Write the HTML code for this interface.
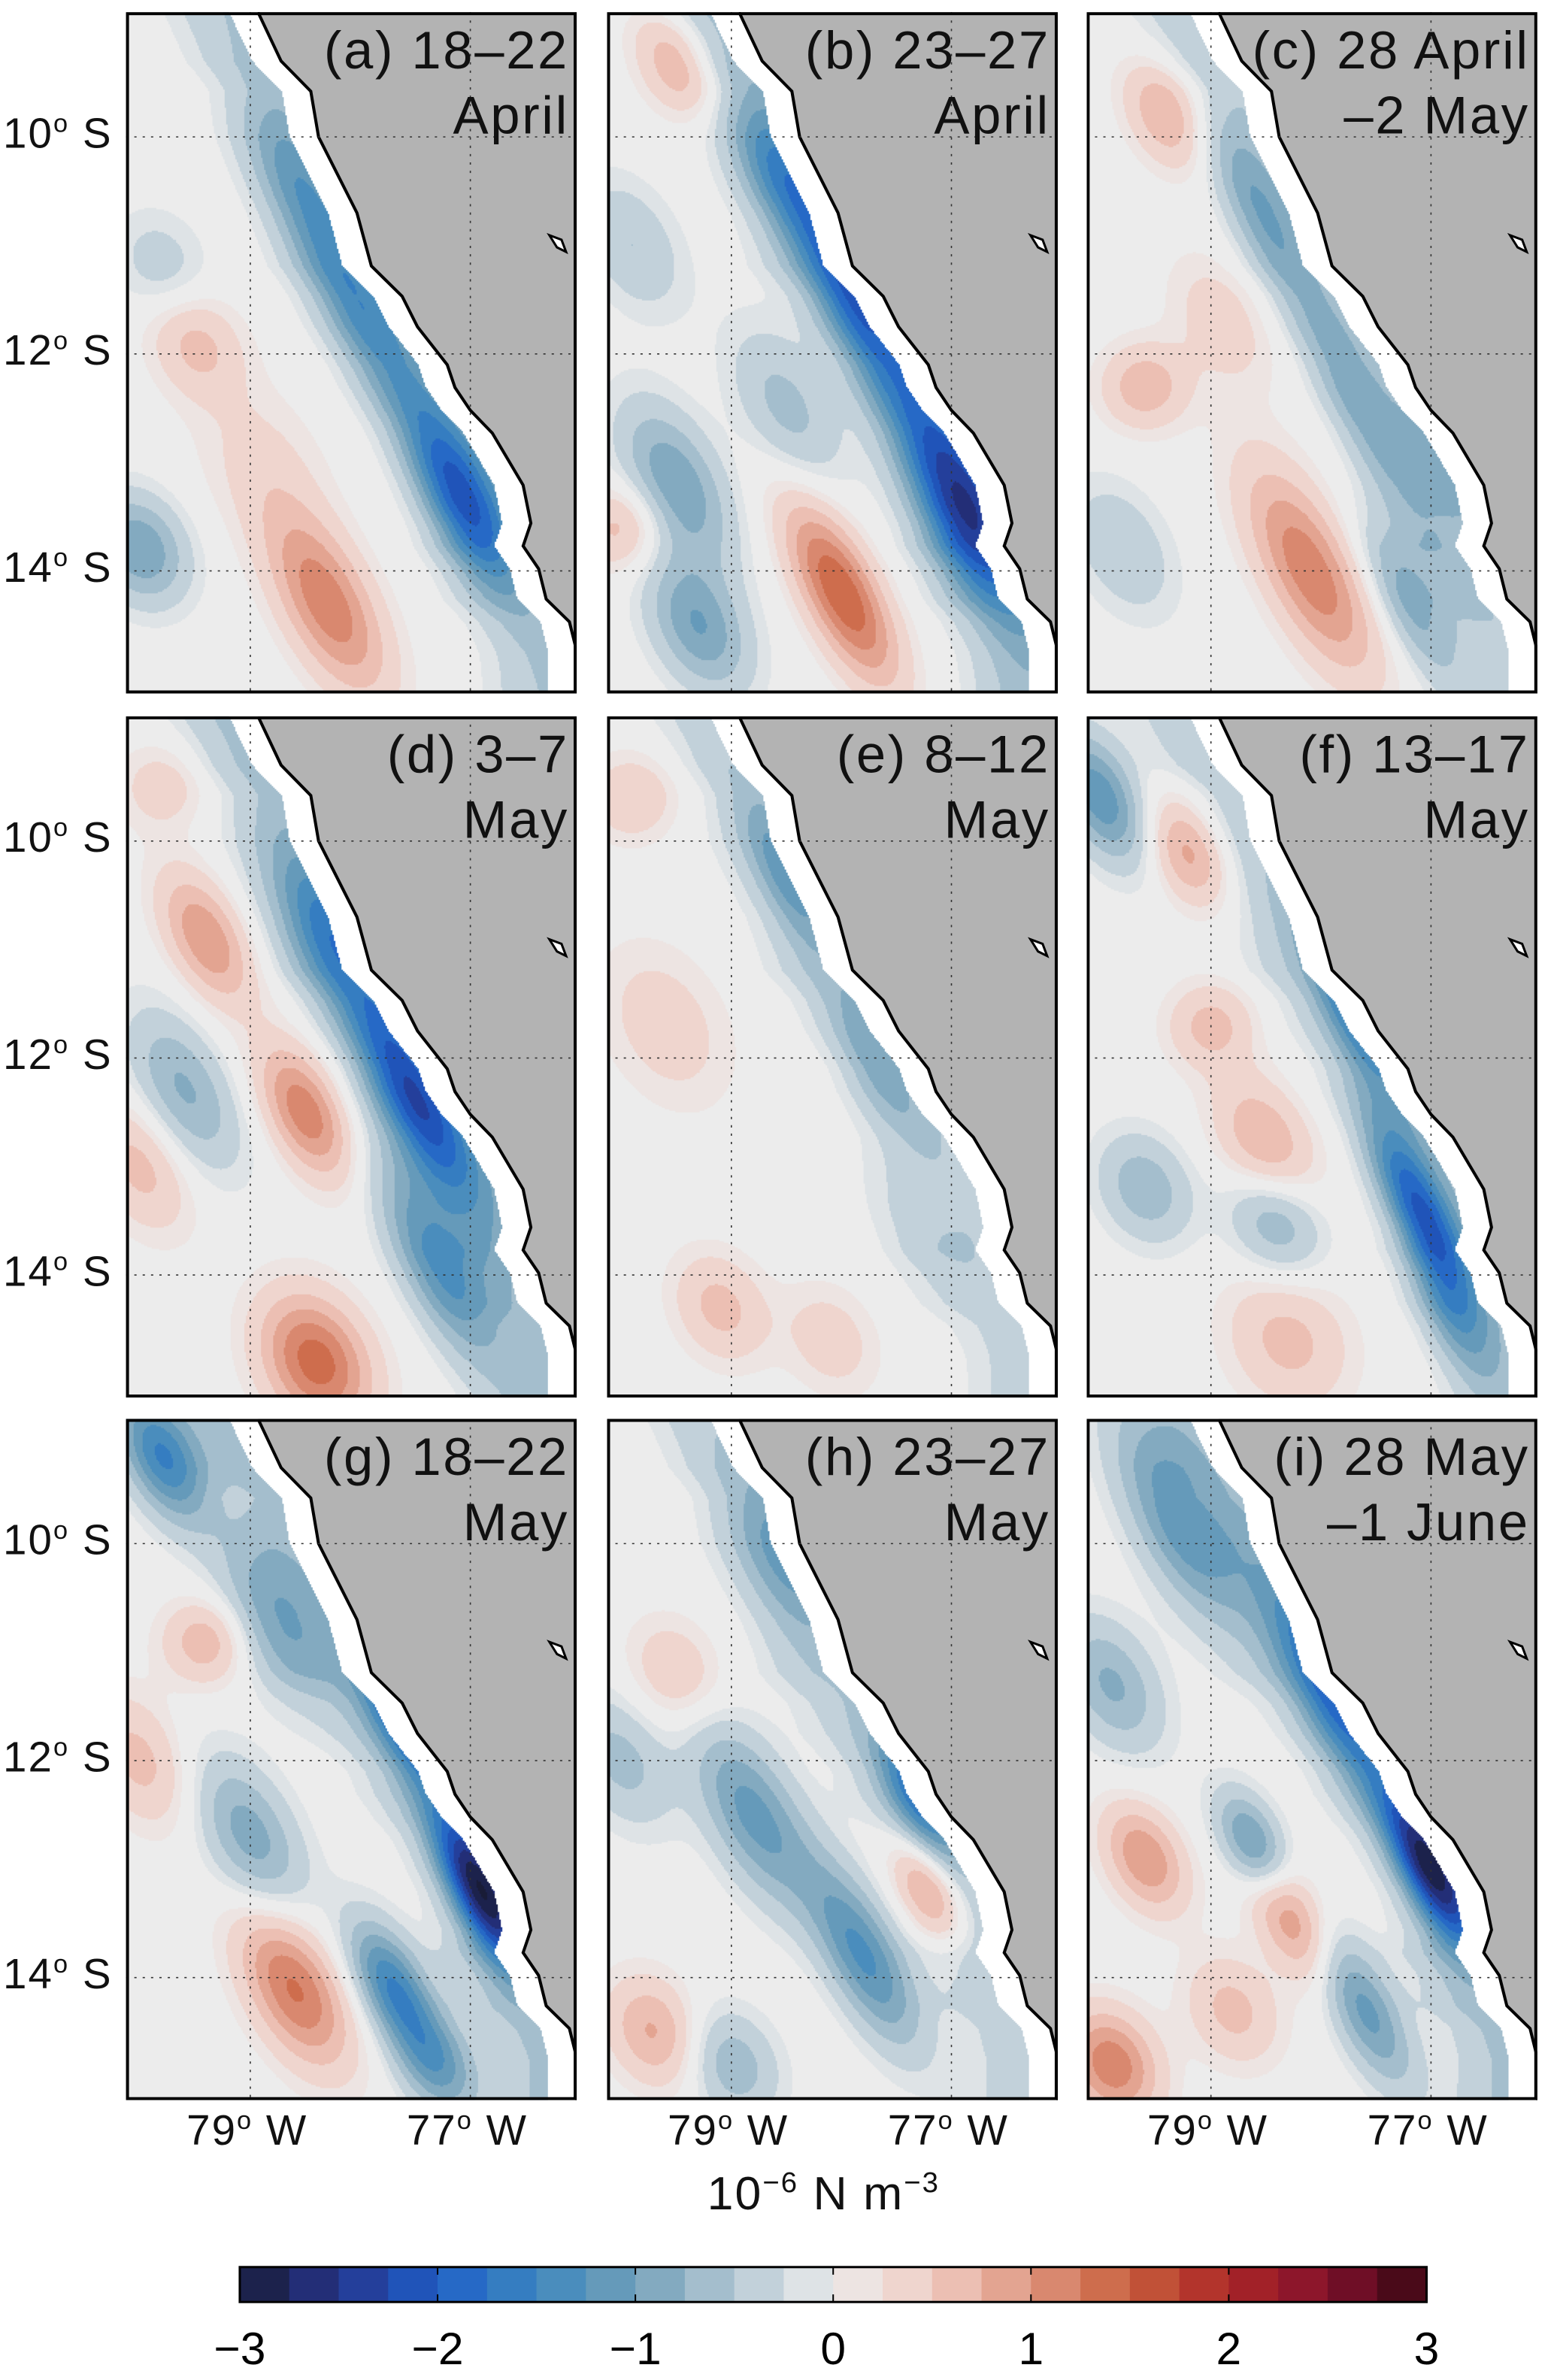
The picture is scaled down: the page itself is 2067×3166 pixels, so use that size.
<!DOCTYPE html>
<html><head><meta charset="utf-8">
<style>
html,body{margin:0;padding:0;background:#fff;}
#wrap{position:absolute;left:0;top:0;width:1024px;height:1568px;transform:scale(2.0186);transform-origin:0 0;font-family:"Liberation Sans","DejaVu Sans",sans-serif;color:#111;}
.panel{position:absolute;width:297px;height:449px;}
.panel canvas{position:absolute;left:0;top:0;width:297px;height:449px;}
.panel svg{position:absolute;left:0;top:0;}
.ttl{position:absolute;right:5px;text-align:right;font-size:35px;line-height:43px;top:4px;letter-spacing:1.3px;}
.lab{position:absolute;font-size:28px;white-space:nowrap;letter-spacing:1px;}
.lab sup{font-size:17px;}
</style></head><body>
<div id="wrap"></div>
<script>
// ---- data ----
const panelTitles=[["(a) 18–22","April"],["(b) 23–27","April"],["(c) 28 April","–2 May"],["(d) 3–7","May"],["(e) 8–12","May"],["(f) 13–17","May"],["(g) 18–22","May"],["(h) 23–27","May"],["(i) 28 May","–1 June"]];
// blobs: [lonW, latS, amplitude, along-coast radius (deg), across radius (deg)]
const blobsA=[[77.1,13.3,-1.8,0.7,0.25],[78.0,11.6,-1.0,0.8,0.25],[78.6,10.4,-0.6,0.6,0.25],[80.0,13.8,-1.0,0.4,0.3],[78.3,14.3,1.2,0.7,0.3],[79.5,11.9,0.6,0.4,0.3],[79.8,11.2,-0.4,0.4,0.3],[78.9,13.0,0.3,0.6,0.4]];
const blobsB=[[76.9,13.4,-2.0,0.8,0.3],[77.9,11.4,-1.5,0.9,0.25],[78.6,10.3,-0.7,0.5,0.25],[79.5,9.3,0.8,0.4,0.25],[78.0,14.2,1.5,0.7,0.25],[79.5,13.2,-1.0,0.6,0.3],[79.3,14.5,-1.0,0.5,0.3],[80.0,13.6,0.6,0.3,0.3],[78.5,12.5,-0.6,0.6,0.3],[79.9,11.0,-0.5,0.5,0.3]];
const blobsC=[[79.4,9.8,0.8,0.4,0.25],[77.6,12.6,-0.7,1.2,0.2],[78.6,10.6,-0.6,0.6,0.2],[78.1,14.0,1.2,0.8,0.3],[77.2,14.3,-0.8,0.6,0.2],[79.6,12.3,0.7,0.3,0.3],[79.8,13.8,-0.5,0.5,0.3],[78.9,11.7,0.4,0.5,0.3],[76.9,13.0,-0.5,0.5,0.2]];
const blobsD=[[77.5,12.4,-1.8,0.9,0.25],[78.3,10.8,-1.0,0.6,0.3],[77.3,13.9,-1.2,0.8,0.25],[79.4,10.9,1.0,0.5,0.25],[78.5,12.5,1.2,0.5,0.25],[78.4,14.8,1.4,0.5,0.35],[79.6,12.3,-0.8,0.6,0.3],[80.0,13.0,0.6,0.5,0.3],[79.8,9.5,0.4,0.3,0.3]];
const blobsE=[[78.5,10.3,-0.8,0.6,0.2],[77.7,12.0,-0.6,0.6,0.2],[79.6,11.7,0.4,0.6,0.4],[79.1,14.3,0.6,0.4,0.3],[79.9,9.6,0.5,0.3,0.3],[77.3,13.5,-0.3,0.6,0.3],[78.1,14.6,0.4,0.4,0.3]];
const blobsF=[[77.7,11.5,-1.4,0.7,0.2],[77.1,13.4,-1.8,0.7,0.2],[80.0,9.6,-1.2,0.5,0.25],[79.2,10.1,0.9,0.4,0.25],[79.0,11.7,0.6,0.3,0.3],[78.5,12.8,0.8,0.5,0.3],[78.4,13.5,-0.8,0.4,0.3],[79.6,13.2,-0.7,0.4,0.3],[78.3,14.6,0.6,0.5,0.4],[76.8,14.4,-0.8,0.5,0.2]];
const blobsG=[[77.6,11.5,-2.0,0.6,0.22],[76.9,13.2,-2.5,0.6,0.2],[79.8,9.2,-1.5,0.5,0.25],[78.8,10.7,-0.8,0.6,0.3],[78.6,14.1,1.3,0.6,0.3],[77.7,14.1,-1.5,0.5,0.22],[79.4,10.9,0.7,0.3,0.3],[80.0,12.0,0.6,0.5,0.3],[79.0,12.7,-0.9,0.6,0.3],[77.3,14.8,-1.0,0.4,0.25]];
const blobsH=[[77.3,12.3,-1.4,0.5,0.2],[78.8,12.5,-1.1,0.7,0.3],[77.8,13.8,-1.3,0.7,0.25],[77.2,13.2,1.0,0.4,0.2],[79.7,14.5,0.8,0.4,0.3],[78.5,10.1,-0.7,0.6,0.3],[79.5,11.2,0.5,0.4,0.3],[79.0,14.8,-0.7,0.4,0.3],[80.0,12.0,-0.6,0.5,0.3]];
const blobsI=[[77.0,13.0,-2.4,0.6,0.2],[77.9,11.3,-1.5,0.8,0.25],[79.3,9.8,-1.1,0.8,0.3],[78.3,13.4,1.1,0.5,0.22],[79.6,12.9,1.0,0.4,0.25],[79.9,14.8,1.2,0.4,0.3],[78.6,12.8,-1.3,0.4,0.2],[77.6,14.3,-1.1,0.6,0.22],[78.8,14.3,0.6,0.4,0.3],[79.9,11.3,-0.8,0.5,0.3]];
const panelBlobs=[blobsA,blobsB,blobsC,blobsD,blobsE,blobsF,blobsG,blobsH,blobsI];
const coastalAmp=[-0.5,-0.6,-0.45,-0.55,-0.4,-0.45,-0.55,-0.45,-0.55];
const cbTicks=[-3,-2,-1,0,1,2,3];
const cbLevels=[-3,-2.75,-2.5,-2.25,-2,-1.75,-1.5,-1.25,-1,-0.75,-0.5,-0.25,0,0.25,0.5,0.75,1,1.25,1.5,1.75,2,2.25,2.5,2.75];
// coastline (lonW, latS)
const coast=[[78.93,8.85],[78.72,9.3],[78.45,9.58],[78.38,10.0],[78.17,10.42],[78.03,10.7],[77.9,11.19],[77.62,11.47],[77.48,11.75],[77.21,12.1],[77.14,12.31],[77.0,12.52],[76.8,12.73],[76.52,13.21],[76.45,13.56],[76.52,13.77],[76.38,13.98],[76.31,14.26],[76.1,14.47],[76.03,14.75],[76.03,15.2]];
// ---- axes ----
const LON0=80.13,LAT0=8.85,PXD=72.5,PYD=71.5,PW=297,PH=449,RSCALE=1.3;
const X=lon=>(LON0-lon)*PXD, Y=lat=>(lat-LAT0)*PYD;
const colX=[83,400,716], rowY=[8,472,935];
const stops=[[-3,[25,28,55]],[-2.5,[38,52,140]],[-2,[30,95,200]],[-1.5,[60,135,190]],[-1,[115,160,185]],[-0.5,[180,200,212]],[0,[236,236,236]],[0.5,[240,205,196]],[1,[222,150,128]],[1.5,[200,95,60]],[2,[172,38,38]],[2.5,[130,16,45]],[3,[55,8,18]]];
function cmap(v){v=Math.max(-3,Math.min(3,v));for(let i=0;i<stops.length-1;i++){const a=stops[i],b=stops[i+1];if(v<=b[0]){const t=(v-a[0])/(b[0]-a[0]);return a[1].map((c,k)=>Math.round(c+(b[1][k]-c)*t));}}return stops[stops.length-1][1];}
const coastPts=coast.map(p=>[X(p[0]),Y(p[1])]);
function coastPx(py){const pts=coastPts;for(let i=0;i<pts.length-1;i++){if(py>=pts[i][1]&&py<=pts[i+1][1]){const t=(py-pts[i][1])/((pts[i+1][1]-pts[i][1])||1);return pts[i][0]+t*(pts[i+1][0]-pts[i][0]);}}return PW;}
const dirx=3/Math.hypot(3,6),diry=6/Math.hypot(3,6);
const wrap=document.getElementById('wrap');
const NS='http://www.w3.org/2000/svg';
for(let p=0;p<9;p++){
  const c=p%3,r=Math.floor(p/3);
  const div=document.createElement('div');div.className='panel';
  
  
  div.style.left=colX[c]+'px';div.style.top=rowY[r]+'px';
  const cv=document.createElement('canvas');cv.width=PW*2;cv.height=PH*2;
  
  
  div.appendChild(cv);
  const ctx=cv.getContext('2d');
  ctx.fillStyle='#b3b3b3';ctx.fillRect(0,0,PW*2,PH*2);
  const bl=panelBlobs[p];const cs=2;
  for(let yy=0;yy<PH*2;yy+=cs){
    const py=(yy+cs/2)/2;const cx=coastPx(py);
    const lat=LAT0+py/PYD;
    for(let xx=0;xx<PW*2;xx+=cs){
      const px=(xx+cs/2)/2;
      if(px>cx){continue;}
      if(px>cx-19){ctx.fillStyle='#fff';ctx.fillRect(xx,yy,cs,cs);continue;}
      const lon=LON0-px/PXD;
      const dc=(cx-19-px)/PXD;
      let v=coastalAmp[p]*Math.exp(-(dc*dc)/(0.5*0.5));
      for(const b of bl){const dx=(b[0]-lon),dy=(lat-b[1]);const a=dx*dirx+dy*diry,q=-dx*diry+dy*dirx;const ra=b[3]*RSCALE,rb=b[4]*RSCALE;v+=b[2]*Math.exp(-(a*a/(ra*ra)+q*q/(rb*rb)));}
      const lv=Math.floor(v/0.25)*0.25+0.125;
      const col=cmap(Math.abs(v)<0.12?0:lv);
      ctx.fillStyle='rgb('+col.join(',')+')';ctx.fillRect(xx,yy,cs,cs);
    }
  }
  const svg=document.createElementNS(NS,'svg');svg.setAttribute('width',PW);svg.setAttribute('height',PH);
  let s='';
  s+='<polyline fill="none" stroke="#000" stroke-width="2" points="'+coast.map(q=>X(q[0]).toFixed(1)+','+Y(q[1]).toFixed(1)).join(' ')+'"/>';
  s+='<path d="M279,147 L287,150 L290,158 L284,155 Z" fill="#fff" stroke="#000" stroke-width="1.5"/>';
  [79,77].forEach(l=>{s+='<line x1="'+X(l)+'" x2="'+X(l)+'" y1="0" y2="'+PH+'" stroke="#333" stroke-width="0.8" stroke-dasharray="1.5,4"/>';});
  [10,12,14].forEach(l=>{s+='<line y1="'+Y(l)+'" y2="'+Y(l)+'" x1="0" x2="'+PW+'" stroke="#333" stroke-width="0.8" stroke-dasharray="1.5,4"/>';});
  s+='<rect x="1" y="1" width="'+(PW-2)+'" height="'+(PH-2)+'" fill="none" stroke="#000" stroke-width="2"/>';
  svg.innerHTML=s;div.appendChild(svg);
  const t=document.createElement('div');t.className='ttl';
  
  
  t.innerHTML=panelTitles[p][0]+'<br>'+panelTitles[p][1];div.appendChild(t);
  wrap.appendChild(div);
}
[10,12,14].forEach(l=>{[0,1,2].forEach(r=>{const d=document.createElement('div');d.className='lab';
  
  
  d.style.left='2px';d.style.top=(rowY[r]+Y(l)-18)+'px';d.innerHTML=l+'<sup>o</sup> S';wrap.appendChild(d);});});
[79,77].forEach(l=>{colX.forEach(cx=>{const d=document.createElement('div');d.className='lab';
  
  
  d.style.left=(cx+X(l)-42)+'px';d.style.top='1388px';d.innerHTML=l+'<sup>o</sup> W';wrap.appendChild(d);});});
const u=document.createElement('div');u.className='lab';


u.style.left='466px';u.style.top='1428px';u.style.fontSize='31px';u.innerHTML='10<sup style="font-size:19px">−6</sup> N m<sup style="font-size:19px">−3</sup>';wrap.appendChild(u);
const CBX=158,CBW=782,CBY=1494,CBH=23;
const cb=document.createElementNS(NS,'svg');cb.setAttribute('width','1024');cb.setAttribute('height','1568');cb.style.position='absolute';cb.style.left='0';cb.style.top='0';


const CX=v=>CBX+(v+3)/6*CBW;
let cs='';
cbLevels.forEach(l=>{const col=cmap(l+0.125);cs+='<rect x="'+CX(l)+'" y="'+CBY+'" width="'+(CBW/24+0.5)+'" height="'+CBH+'" fill="rgb('+col.join(',')+')"/>';});
cs+='<rect x="'+CBX+'" y="'+CBY+'" width="'+CBW+'" height="'+CBH+'" fill="none" stroke="#000" stroke-width="1.5"/>';
cbTicks.forEach(v=>{cs+='<line x1="'+CX(v)+'" x2="'+CX(v)+'" y1="'+CBY+'" y2="'+(CBY+5)+'" stroke="#000"/><line x1="'+CX(v)+'" x2="'+CX(v)+'" y1="'+(CBY+CBH-5)+'" y2="'+(CBY+CBH)+'" stroke="#000"/>';
 cs+='<text x="'+CX(v)+'" y="1558" text-anchor="middle" font-size="30" font-family="Liberation Sans, sans-serif">'+(v<0?'−'+(-v):v)+'</text>';});
cb.innerHTML=cs;wrap.appendChild(cb);
</script>
</body></html>
